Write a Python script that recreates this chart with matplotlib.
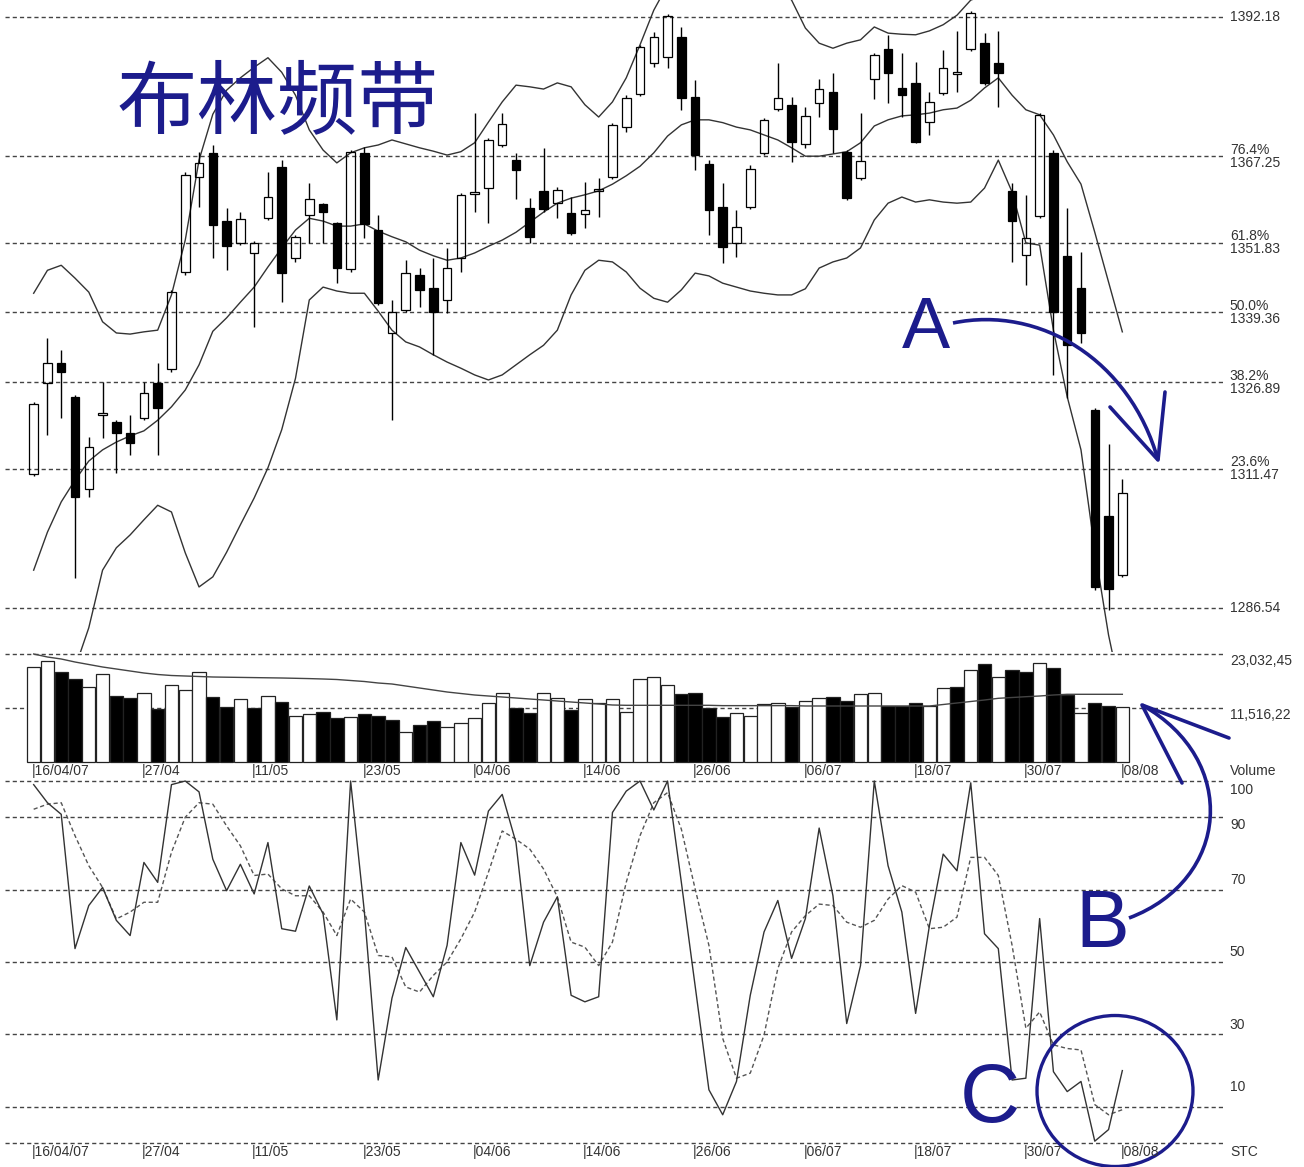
import matplotlib
matplotlib.use('Agg')
import matplotlib.pyplot as plt
import matplotlib.transforms as mtransforms
from matplotlib.patches import Rectangle, Ellipse, PathPatch
from matplotlib.path import Path

# ---- data (one value per trading day) ----
opens = [1310.5, 1326.8, 1330.3, 1324.3, 1307.8, 1321.0, 1319.8, 1317.8, 1320.5, 1326.8,
         1329.3, 1346.6, 1363.6, 1367.9, 1355.7, 1351.8, 1350.0, 1356.2, 1365.4, 1349.1,
         1356.8, 1358.8, 1355.4, 1347.1, 1367.9, 1354.1, 1335.7, 1339.8, 1346.1, 1343.7,
         1341.6, 1349.1, 1360.5, 1361.6, 1369.3, 1366.6, 1358.0, 1361.1, 1358.9, 1357.1,
         1357.0, 1361.1, 1363.6, 1372.5, 1378.4, 1384.0, 1385.0, 1388.6, 1377.9, 1365.9,
         1358.2, 1351.8, 1358.2, 1367.9, 1375.7, 1376.5, 1369.5, 1376.8, 1378.8, 1368.1,
         1363.4, 1381.1, 1386.5, 1379.5, 1380.4, 1373.4, 1378.6, 1382.0, 1386.5, 1387.5,
         1384.0, 1361.1, 1349.6, 1356.6, 1367.9, 1349.5, 1343.7, 1321.9, 1303.0, 1292.4]
highs = [1323.4, 1334.8, 1332.7, 1324.6, 1317.1, 1326.9, 1320.1, 1321.0, 1326.9, 1330.3,
         1343.4, 1364.5, 1368.1, 1369.3, 1358.0, 1357.3, 1352.1, 1364.5, 1366.6, 1353.2,
         1362.5, 1358.9, 1355.5, 1368.4, 1368.9, 1356.8, 1341.6, 1348.7, 1347.3, 1349.1,
         1350.9, 1360.7, 1375.0, 1370.6, 1375.0, 1367.9, 1359.8, 1368.8, 1361.8, 1360.0,
         1362.7, 1363.4, 1373.2, 1378.2, 1387.2, 1389.5, 1392.7, 1390.4, 1380.9, 1366.6,
         1362.5, 1357.7, 1365.7, 1374.1, 1384.0, 1377.9, 1376.1, 1381.1, 1382.2, 1368.4,
         1375.0, 1385.7, 1389.0, 1385.7, 1384.1, 1378.8, 1386.3, 1389.7, 1393.3, 1389.3,
         1389.7, 1362.5, 1360.4, 1375.0, 1368.4, 1358.0, 1350.2, 1322.3, 1315.8, 1309.6]
lows = [1310.2, 1317.5, 1320.5, 1291.9, 1306.4, 1316.9, 1310.7, 1313.9, 1320.1, 1313.9,
        1328.7, 1346.1, 1358.2, 1349.1, 1347.0, 1351.4, 1336.8, 1355.9, 1341.2, 1348.4,
        1351.8, 1351.8, 1344.6, 1346.6, 1352.7, 1340.7, 1320.1, 1339.4, 1340.3, 1331.8,
        1339.3, 1346.6, 1357.3, 1355.4, 1368.9, 1359.6, 1351.8, 1357.3, 1356.2, 1353.2,
        1354.5, 1356.4, 1363.2, 1371.6, 1378.1, 1383.2, 1383.1, 1375.6, 1364.8, 1353.2,
        1348.2, 1349.3, 1357.9, 1367.5, 1375.4, 1366.2, 1368.8, 1374.3, 1367.9, 1359.5,
        1363.0, 1377.5, 1376.8, 1374.3, 1369.7, 1371.1, 1378.2, 1378.8, 1386.1, 1380.0,
        1376.1, 1348.4, 1344.3, 1356.2, 1328.2, 1324.1, 1333.9, 1289.8, 1286.2, 1292.1]
closes = [1323.0, 1330.3, 1328.7, 1306.4, 1315.3, 1321.4, 1317.8, 1316.0, 1325.0, 1322.3,
          1343.0, 1363.9, 1366.1, 1355.0, 1351.2, 1356.1, 1351.8, 1360.0, 1346.4, 1352.9,
          1359.6, 1357.3, 1347.3, 1368.1, 1355.2, 1341.1, 1339.4, 1346.4, 1343.4, 1339.4,
          1347.3, 1360.4, 1360.9, 1370.2, 1373.1, 1364.8, 1352.9, 1357.9, 1361.3, 1353.6,
          1357.7, 1361.4, 1372.9, 1377.7, 1386.8, 1388.6, 1392.4, 1377.7, 1367.5, 1357.7,
          1351.1, 1354.6, 1365.0, 1373.8, 1377.7, 1369.8, 1374.5, 1379.3, 1372.2, 1359.8,
          1366.4, 1385.4, 1382.2, 1378.2, 1369.8, 1377.0, 1383.1, 1382.3, 1392.9, 1380.4,
          1382.2, 1355.7, 1352.7, 1374.7, 1339.4, 1333.5, 1335.7, 1290.3, 1289.9, 1307.1]

bb_upper = [1342.8, 1346.9, 1347.8, 1345.5, 1343.0, 1337.7, 1335.7, 1335.5, 1335.9, 1336.2,
            1342.5, 1352.3, 1366.6, 1374.8, 1379.1, 1381.3, 1383.2, 1384.9, 1382.3, 1378.2,
            1372.0, 1368.4, 1366.1, 1367.9, 1368.8, 1369.3, 1370.2, 1369.5, 1368.8, 1368.2,
            1367.5, 1368.1, 1369.7, 1373.4, 1377.0, 1380.0, 1379.7, 1379.3, 1380.4, 1379.7,
            1376.5, 1374.3, 1377.0, 1381.3, 1387.2, 1393.4, 1397.9, 1399.7, 1401.1, 1401.7,
            1401.5, 1400.9, 1400.2, 1399.2, 1397.4, 1395.2, 1390.2, 1387.5, 1386.6, 1387.5,
            1388.1, 1390.4, 1389.3, 1389.1, 1389.0, 1389.7, 1390.8, 1392.5, 1395.2, 1396.1,
            1396.7, 1397.9, 1399.7, 1402.4, 1405.1, 1406.8, 1407.7, 1407.7, 1406.0, 1403.3]
bb_mid = [1293.3, 1300.1, 1305.5, 1309.4, 1312.8, 1314.8, 1316.2, 1317.3, 1318.2, 1320.1,
          1322.5, 1325.5, 1330.0, 1336.0, 1338.4, 1341.2, 1343.9, 1347.5, 1350.9, 1354.1,
          1356.2, 1355.7, 1354.8, 1354.8, 1355.2, 1353.9, 1352.9, 1352.0, 1350.5, 1349.5,
          1348.7, 1349.1, 1350.0, 1351.2, 1352.3, 1353.7, 1355.5, 1357.3, 1358.9, 1359.8,
          1360.4, 1361.1, 1362.3, 1363.8, 1365.5, 1367.9, 1370.9, 1372.9, 1373.8, 1373.8,
          1373.3, 1372.5, 1372.0, 1371.1, 1370.2, 1368.8, 1367.3, 1367.3, 1367.7, 1368.1,
          1369.7, 1372.7, 1373.8, 1374.5, 1374.7, 1375.0, 1375.6, 1375.9, 1377.3, 1379.5,
          1381.3, 1378.2, 1375.6, 1374.7, 1371.1, 1366.3, 1362.3, 1353.7, 1344.8, 1335.9]
bb_lower = [1266.5, 1268.3, 1271.0, 1275.8, 1283.0, 1293.3, 1297.3, 1299.6, 1302.3, 1304.9,
            1303.7, 1296.4, 1290.3, 1292.1, 1296.5, 1301.4, 1306.2, 1311.6, 1318.4, 1327.6,
            1341.6, 1343.9, 1343.2, 1342.8, 1342.8, 1339.6, 1336.2, 1334.1, 1333.2, 1331.8,
            1330.5, 1329.4, 1328.2, 1327.3, 1328.2, 1330.0, 1331.8, 1333.5, 1336.2, 1342.5,
            1346.9, 1348.7, 1348.4, 1346.6, 1343.7, 1341.9, 1341.2, 1343.4, 1346.4, 1345.9,
            1344.6, 1343.9, 1343.2, 1342.8, 1342.5, 1342.5, 1343.6, 1347.3, 1348.4, 1349.1,
            1350.9, 1355.9, 1358.9, 1360.0, 1359.1, 1359.5, 1359.1, 1358.9, 1359.1, 1361.6,
            1366.6, 1360.9, 1351.8, 1351.4, 1336.2, 1324.3, 1314.8, 1296.9, 1281.7, 1270.1]

volume = [20325, 21603, 19257, 17701, 16059, 18703, 14139, 13713, 14779, 11239,
          16421, 15355, 19129, 13862, 11793, 13371, 11452, 14075, 12731, 9810,
          10300, 10599, 9319, 9661, 10172, 9874, 9021, 6334, 7827, 8744,
          7528, 8253, 9447, 12518, 14779, 11452, 10386, 14651, 13713, 11025,
          13371, 12518, 13371, 10727, 17701, 18127, 16421, 14502, 14651, 11580,
          9661, 10386, 9810, 12305, 12518, 11793, 13009, 13713, 13926, 13073,
          14438, 14715, 12007, 12007, 12582, 11943, 15717, 16059, 19620, 20835,
          18063, 19620, 19257, 21049, 20110, 14288, 10386, 12582, 12007, 11665]
vol_down = [0, 0, 1, 1, 0, 0, 1, 1, 0, 1, 0, 0, 0, 1, 1, 0, 1, 0, 1, 0,
            0, 1, 1, 0, 1, 1, 1, 0, 1, 1, 0, 0, 0, 0, 0, 1, 1, 0, 0, 1,
            0, 0, 0, 0, 0, 0, 0, 1, 1, 1, 1, 0, 0, 0, 0, 1, 0, 0, 1, 1,
            0, 0, 1, 1, 1, 0, 0, 1, 0, 1, 0, 1, 1, 0, 1, 1, 0, 1, 1, 0]
vol_ma = [23032, 22392, 21966, 21326, 20793, 20260, 19833, 19407, 18980, 18660,
          18447, 18340, 18234, 18127, 18084, 18042, 17999, 17956, 17914, 17850,
          17786, 17701, 17594, 17381, 17167, 16848, 16634, 16208, 15781, 15355,
          14928, 14608, 14288, 14075, 13862, 13649, 13435, 13222, 13009, 12796,
          12582, 12369, 12156, 12090, 12090, 12090, 12090, 12090, 12090, 12090,
          12020, 12020, 12020, 12020, 12020, 12020, 11943, 11943, 11943, 11943,
          11943, 11943, 11943, 11943, 11943, 11943, 12262, 12582, 12902, 13222,
          13585, 13755, 13926, 14075, 14288, 14438, 14438, 14438, 14438, 14438]

stoch_k = [99, 94, 90.8, 53.7, 65.6, 70.6, 61.5, 57.3, 77.5, 72,
           99, 100, 97, 78.4, 69.7, 77, 68.8, 83, 59.2, 58.5,
           71, 63.3, 34, 100, 63.8, 17.4, 40, 54, 47.2, 40.4,
           54.6, 83, 74, 91.7, 96.3, 83, 49, 61, 68, 40.8,
           39, 40.4, 91.3, 97.2, 100, 92, 100, 72, 43.4, 14.7,
           7.8, 17, 40.8, 58.3, 67, 51, 62, 87, 68.3, 33,
           49, 100, 76.6, 63.8, 35.8, 60, 79.8, 75.2, 99.5, 57.8,
           53.7, 17.4, 17.9, 62, 19.7, 14.2, 17, 0.5, 3.7, 20]
stoch_d = [92.2, 93.6, 94, 84.9, 76.6, 70.6, 61.9, 63.8, 66.5, 66.5,
           80.3, 90, 94, 93.6, 87.6, 82.1, 73.9, 74.3, 70.2, 68.3,
           68.3, 63.8, 57.3, 67.4, 63.8, 51.8, 51.4, 43.1, 41.7, 46.3,
           50, 56.4, 63.8, 74.8, 86.2, 83.9, 81.2, 75.7, 68, 55.5,
           54.1, 49, 55.5, 72, 84.9, 94, 96.8, 86.7, 70.2, 54.6,
           28.9, 17.9, 19.3, 29.8, 48.2, 58.3, 62.8, 66, 65.6, 61,
           59.6, 61.5, 67.4, 71.1, 69.3, 59.2, 59.6, 62.4, 78.9, 78.9,
           73.9, 54.6, 31.7, 36.2, 27.1, 26.1, 25.7, 10.6, 7.8, 9.2]

fib_levels = [1392.18, 1367.25, 1351.83, 1339.36, 1326.89, 1311.47, 1286.54]
fib_labels = ['1392.18', '76.4%\n1367.25', '61.8%\n1351.83', '50.0%\n1339.36',
              '38.2%\n1326.89', '23.6%\n1311.47', '1286.54']
vol_levels = [23032.45, 11516.22]
vol_labels = ['23,032,45', '11,516,22']
stoch_levels = [100, 90, 70, 50, 30, 10, 0]
stoch_label_pos = [97.5, 87.8, 72.7, 52.8, 32.6, 15.5, -2.5]
stoch_labels = ['100', '90', '70', '50', '30', '10', 'STC']
date_idx = [0, 8, 16, 24, 32, 40, 48, 56, 64, 72, 79]
date_labels = ['16/04/07', '27/04', '11/05', '23/05', '04/06', '14/06',
               '26/06', '06/07', '18/07', '30/07', '08/08']

W, H = 1304, 1167
NAVY = '#1c1c8c'
GRID = '#444444'
TXT = '#333333'
LBL_FONT = ['Liberation Sans', 'DejaVu Sans']
FS = 10
dash = (0, (3, 2.2))

fig = plt.figure(figsize=(W / 100, H / 100), dpi=100)
fig.patch.set_facecolor('white')


def box(x0, y0, x1, y1):
    return [x0 / W, 1 - y1 / H, (x1 - x0) / W, (y1 - y0) / H]


ax_p = fig.add_axes(box(5, 0, 1225, 652))
ax_v = fig.add_axes(box(5, 652, 1225, 768))
ax_s = fig.add_axes(box(5, 775, 1225, 1160))
for ax in (ax_p, ax_v, ax_s):
    ax.set_xlim(-2.08, 86.45)
    ax.axis('off')
ax_p.set_ylim(1278.67, 1395.22)
ax_v.set_ylim(-1280, 23459)
ax_s.set_ylim(-4.7, 101.66)

n = len(closes)
idx = list(range(n))

# ---- price panel ----
for lev, lab in zip(fib_levels, fib_labels):
    ax_p.axhline(lev, color=GRID, lw=1.0, ls=dash, zorder=1)
    ax_p.text(1.004, lev, lab, transform=ax_p.get_yaxis_transform(), ha='left',
              va='center', fontsize=FS, color=TXT, family=LBL_FONT, linespacing=0.95)

for band in (bb_upper, bb_mid, bb_lower):
    ax_p.plot(idx, band, color='#333333', lw=1.0, zorder=2)

body_w = 0.62
for i in idx:
    o, h, l, c = opens[i], highs[i], lows[i], closes[i]
    top, bot = max(o, c), min(o, c)
    ax_p.vlines(i, top, h, color='black', lw=1.0, zorder=3)
    ax_p.vlines(i, l, bot, color='black', lw=1.0, zorder=3)
    up = c >= o
    ax_p.add_patch(Rectangle((i - body_w / 2, bot), body_w, max(top - bot, 0.05),
                             facecolor='none' if up else 'black',
                             edgecolor='black', lw=0.9, zorder=4))

# ---- volume panel ----
for lev, lab in zip(vol_levels, vol_labels):
    ax_v.axhline(lev, color=GRID, lw=1.0, ls=dash, zorder=1)
    ax_v.text(1.004, lev, lab, transform=ax_v.get_yaxis_transform(), ha='left',
              va='top', fontsize=FS, color=TXT, family=LBL_FONT)
ax_v.bar(idx, volume, width=0.97, color=['black' if d else 'white' for d in vol_down],
         edgecolor='#222222', lw=0.9, zorder=2)
ax_v.plot(idx, vol_ma, color='#444444', lw=1.0, zorder=3)

# ---- stochastic panel ----
for lev in stoch_levels:
    ax_s.axhline(lev, color=GRID, lw=1.0, ls=dash, zorder=1)
for pos, lab in zip(stoch_label_pos, stoch_labels):
    ax_s.text(1.004, pos, lab, transform=ax_s.get_yaxis_transform(), ha='left',
              va='center', fontsize=FS, color=TXT, family=LBL_FONT)
ax_s.plot(idx, stoch_d, color='#555555', lw=1.0, ls=(0, (3, 2)), zorder=2)
ax_s.plot(idx, stoch_k, color='#333333', lw=1.0, zorder=3)

# date labels under the volume panel and at the bottom
tr = mtransforms.blended_transform_factory(ax_v.transData, fig.transFigure)
for ypix in (771, 1152):
    for i, lab in zip(date_idx, date_labels):
        fig.text(i - 0.15, 1 - ypix / H, '|' + lab, transform=tr, ha='left',
                 va='center', fontsize=FS, color=TXT, family=LBL_FONT)
fig.text(1230 / W, 1 - 771 / H, 'Volume', ha='left', va='center', fontsize=FS,
         color=TXT, family=LBL_FONT)

# ---- hand-drawn annotations (overlay in pixel space) ----
ov = fig.add_axes([0, 0, 1, 1], facecolor='none')
ov.set_xlim(0, W)
ov.set_ylim(H, 0)
ov.axis('off')

ov.text(278, 104, '布林频带', ha='center', va='center', fontsize=58, color=NAVY,
        family=['Noto Sans CJK SC', 'DejaVu Sans'])
for ch, x, y, fs in (('A', 926, 330, 52), ('B', 1102, 926, 58), ('C', 990, 1100, 60)):
    ov.text(x, y, ch, ha='center', va='center', fontsize=fs, color=NAVY,
            family=['Liberation Sans', 'DejaVu Sans'])

arc_a = Path([(953, 323), (1040, 305), (1130, 360), (1158, 460)],
             [Path.MOVETO, Path.CURVE4, Path.CURVE4, Path.CURVE4])
ov.add_patch(PathPatch(arc_a, fc='none', ec=NAVY, lw=2.6))
ov.plot([1110, 1158, 1165], [407, 460, 392], color=NAVY, lw=2.6,
        solid_capstyle='round')

arc_b = Path([(1129, 918), (1230, 880), (1240, 760), (1142, 705)],
             [Path.MOVETO, Path.CURVE4, Path.CURVE4, Path.CURVE4])
ov.add_patch(PathPatch(arc_b, fc='none', ec=NAVY, lw=2.6))
ov.plot([1229, 1142, 1182], [738, 705, 783], color=NAVY, lw=2.6,
        solid_capstyle='round')

ov.add_patch(Ellipse((1115, 1091), 156, 151, fc='none', ec=NAVY, lw=2.4))

fig.savefig('out.png', dpi=100, facecolor='white')
